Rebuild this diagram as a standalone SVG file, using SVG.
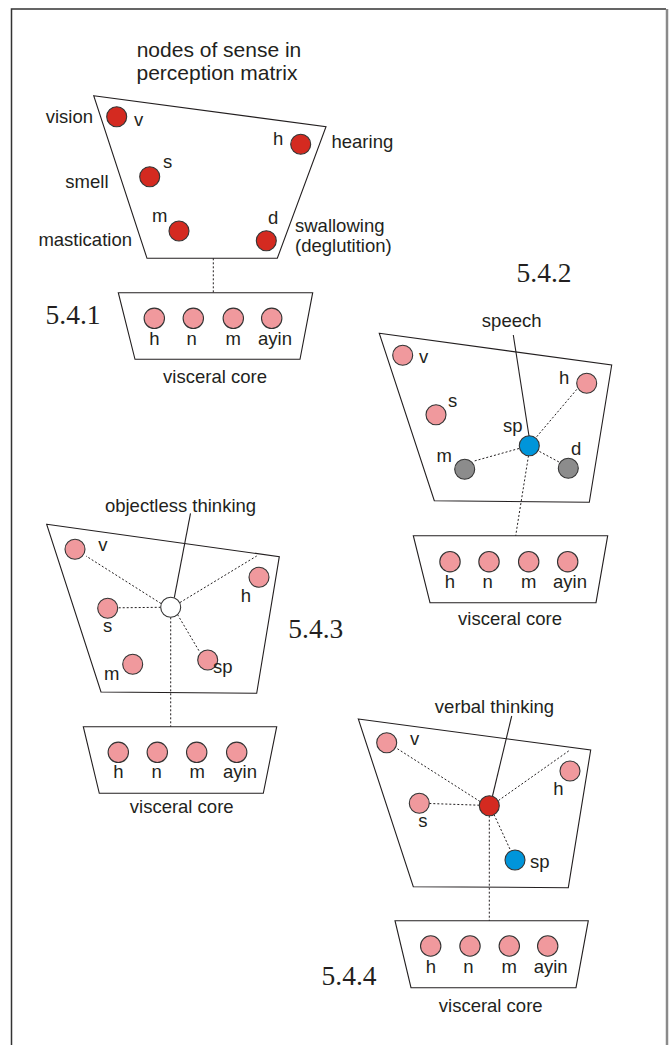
<svg xmlns="http://www.w3.org/2000/svg" width="670" height="1045" viewBox="0 0 670 1045">
<style>
text{font-family:"Liberation Sans",Arial,sans-serif;font-size:18.5px;fill:#231f20}
.t{font-size:21px}
.num{font-family:"Liberation Serif","Times New Roman",serif;font-size:27.5px}
.c{text-anchor:middle}
.e{text-anchor:end}
.trap{fill:#fff;stroke:#231f20;stroke-width:1.1}
circle{stroke:#333;stroke-width:1.1}
.red{fill:#d42a20}
.pink{fill:#f0999d}
.blue{fill:#0095da}
.gray{fill:#8c8c8c}
.white{fill:#fff}
.dot{stroke:#231f20;stroke-width:1;stroke-dasharray:2 2;fill:none}
.sol{stroke:#231f20;stroke-width:1.1;fill:none}
</style>
<rect width="670" height="1045" fill="#fff"/>
<path d="M11.5 1045 V9 H666" fill="none" stroke="#333" stroke-width="1.5"/>
<line x1="667" y1="9" x2="667" y2="1045" stroke="#8a8a8a" stroke-width="2.5"/>

<!-- 5.4.1 -->
<g id="matrix1">
<text class="t c" x="219" y="57">nodes of sense in</text>
<text class="t c" x="217" y="80">perception matrix</text>
<polygon class="trap" points="93.7,95.7 326,126.7 277.3,258.3 147,258.3"/>
<circle class="red" cx="116.7" cy="116.7" r="10"/>
<circle class="red" cx="300.7" cy="144.3" r="10"/>
<circle class="red" cx="149.7" cy="176.7" r="10"/>
<circle class="red" cx="179" cy="231" r="10"/>
<circle class="red" cx="266.3" cy="240.7" r="10"/>
<text class="e" x="93" y="123">vision</text>
<text x="134" y="126">v</text>
<text x="273" y="145">h</text>
<text x="331.5" y="148">hearing</text>
<text x="163" y="168">s</text>
<text class="e" x="108.5" y="188">smell</text>
<text x="152" y="222">m</text>
<text class="e" x="132" y="246">mastication</text>
<text x="268" y="224">d</text>
<text x="295" y="232">swallowing</text>
<text x="295" y="252">(deglutition)</text>
</g>
<g id="core1">
<text class="num" x="45.5" y="323.5">5.4.1</text>
<polygon class="trap" points="118.3,292.7 312.7,292.7 300,359.3 135,359.3"/>
<circle class="pink" cx="154.3" cy="318.3" r="10.2"/>
<circle class="pink" cx="193.3" cy="318.3" r="10.2"/>
<circle class="pink" cx="233.3" cy="318.3" r="10.2"/>
<circle class="pink" cx="271.7" cy="318.3" r="10.2"/>
<text class="c" x="154.3" y="345">h</text>
<text class="c" x="191.7" y="345">n</text>
<text class="c" x="233.3" y="345">m</text>
<text class="c" x="275" y="345">ayin</text>
<text class="c" x="215" y="383.3">visceral core</text>
</g>

<!-- 5.4.2 -->
<g id="matrix2">
<text class="num" x="516.5" y="281.7">5.4.2</text>
<text class="c" x="511.7" y="327.3">speech</text>
<polygon class="trap" points="379.3,333.3 611.7,365 589.3,502.3 434.3,500.7"/>
<circle class="pink" cx="402.7" cy="355.3" r="10"/>
<circle class="pink" cx="586.7" cy="383.3" r="10"/>
<circle class="pink" cx="436" cy="414.7" r="10"/>
<circle class="gray" cx="464.7" cy="469.3" r="10"/>
<circle class="gray" cx="568.3" cy="468.3" r="10"/>
<text x="419" y="363">v</text>
<text x="559" y="383.5">h</text>
<text x="448" y="406.7">s</text>
<text x="436.5" y="461.7">m</text>
<text x="571" y="455">d</text>
<text x="503" y="431.7">sp</text>
</g>
<g id="core2">
<polygon class="trap" points="413.3,535.7 607.7,535.7 596,602.7 430,602.7"/>
<circle class="pink" cx="450" cy="561.7" r="10.2"/>
<circle class="pink" cx="489" cy="561.7" r="10.2"/>
<circle class="pink" cx="528.7" cy="561.7" r="10.2"/>
<circle class="pink" cx="567.7" cy="561.7" r="10.2"/>
<text class="c" x="450" y="588.3">h</text>
<text class="c" x="487.7" y="588.3">n</text>
<text class="c" x="528.7" y="588.3">m</text>
<text class="c" x="570" y="588.3">ayin</text>
<text class="c" x="510" y="625">visceral core</text>
</g>

<!-- 5.4.3 -->
<g id="matrix3">
<text class="c" x="180.5" y="511.7">objectless thinking</text>
<polygon class="trap" points="46.7,524.3 279.3,556.7 256.7,693.3 101,692"/>
<circle class="pink" cx="75" cy="549.3" r="10"/>
<circle class="pink" cx="259" cy="577.3" r="10"/>
<circle class="pink" cx="107.7" cy="608.3" r="10"/>
<circle class="pink" cx="132.7" cy="664.3" r="10"/>
<circle class="pink" cx="207.7" cy="660" r="10"/>
<text x="98.3" y="551">v</text>
<text x="240.7" y="601.7">h</text>
<text x="103" y="631.7">s</text>
<text x="104" y="680">m</text>
<text x="213" y="673.3">sp</text>
<text class="num" x="288.3" y="638.3">5.4.3</text>
</g>
<g id="core3">
<polygon class="trap" points="83.3,726.7 276.7,726.7 263.3,793.3 99.3,793.3"/>
<circle class="pink" cx="118.3" cy="752.3" r="10.2"/>
<circle class="pink" cx="157.3" cy="752.3" r="10.2"/>
<circle class="pink" cx="196.7" cy="752.3" r="10.2"/>
<circle class="pink" cx="236.7" cy="752.3" r="10.2"/>
<text class="c" x="118.3" y="778.3">h</text>
<text class="c" x="156.7" y="778.3">n</text>
<text class="c" x="197.3" y="778.3">m</text>
<text class="c" x="240" y="778.3">ayin</text>
<text class="c" x="181.7" y="813.3">visceral core</text>
</g>

<!-- 5.4.4 -->
<g id="matrix4">
<text class="c" x="494.5" y="713.3">verbal thinking</text>
<polygon class="trap" points="358.3,719 590.7,750 568.3,887.7 413.3,886.7"/>
<circle class="pink" cx="386.7" cy="742.7" r="10"/>
<circle class="pink" cx="570" cy="771" r="10"/>
<circle class="pink" cx="419.3" cy="803.3" r="10"/>
<circle class="blue" cx="515" cy="860" r="10"/>
<text x="410" y="745">v</text>
<text x="553.3" y="795">h</text>
<text x="418.3" y="826.7">s</text>
<text x="530" y="868.3">sp</text>
</g>
<g id="core4">
<text class="num" x="321.5" y="985">5.4.4</text>
<polygon class="trap" points="395,920.7 588.3,920.7 576,987.7 411,987.7"/>
<circle class="pink" cx="430.7" cy="946" r="10.2"/>
<circle class="pink" cx="470" cy="946" r="10.2"/>
<circle class="pink" cx="509.3" cy="946" r="10.2"/>
<circle class="pink" cx="547.7" cy="946" r="10.2"/>
<text class="c" x="431" y="973.3">h</text>
<text class="c" x="468.3" y="973.3">n</text>
<text class="c" x="509.3" y="973.3">m</text>
<text class="c" x="550.7" y="973.3">ayin</text>
<text class="c" x="490.7" y="1011.7">visceral core</text>
</g>

<g id="connectors">
<line class="dot" x1="213.3" y1="258.3" x2="213.3" y2="292.7"/>
<line class="sol" x1="513.3" y1="335" x2="529" y2="436"/>
<line class="dot" x1="536.7" y1="436.7" x2="577.7" y2="388.3"/>
<line class="dot" x1="519" y1="448.5" x2="474.3" y2="461"/>
<line class="dot" x1="539.5" y1="451.5" x2="559" y2="462"/>
<line class="dot" x1="528.5" y1="455.7" x2="515.7" y2="535.7"/>
<line class="sol" x1="190.5" y1="513.3" x2="174.3" y2="597.6"/>
<line class="dot" x1="161" y1="603.5" x2="86" y2="556"/>
<line class="dot" x1="180" y1="602.5" x2="256.7" y2="556"/>
<line class="dot" x1="160.7" y1="607.3" x2="118" y2="607.8"/>
<line class="dot" x1="177.5" y1="614.5" x2="200" y2="652.5"/>
<line class="dot" x1="170.7" y1="617.3" x2="170.7" y2="726.7"/>
<line class="sol" x1="511.7" y1="716" x2="492.5" y2="796"/>
<line class="dot" x1="480" y1="801.5" x2="396.7" y2="748.3"/>
<line class="dot" x1="498.5" y1="800.5" x2="570" y2="750"/>
<line class="dot" x1="479.3" y1="805.2" x2="429.5" y2="803.5"/>
<line class="dot" x1="494" y1="814.5" x2="510.5" y2="850.3"/>
<line class="dot" x1="489.3" y1="815.7" x2="489.3" y2="920.7"/>
</g>
<g id="centers">
<circle class="blue" cx="529.3" cy="445.7" r="10"/>
<circle class="white" cx="170.7" cy="607.3" r="10"/>
<circle class="red" cx="489.3" cy="805.7" r="10"/>
</g>
</svg>
